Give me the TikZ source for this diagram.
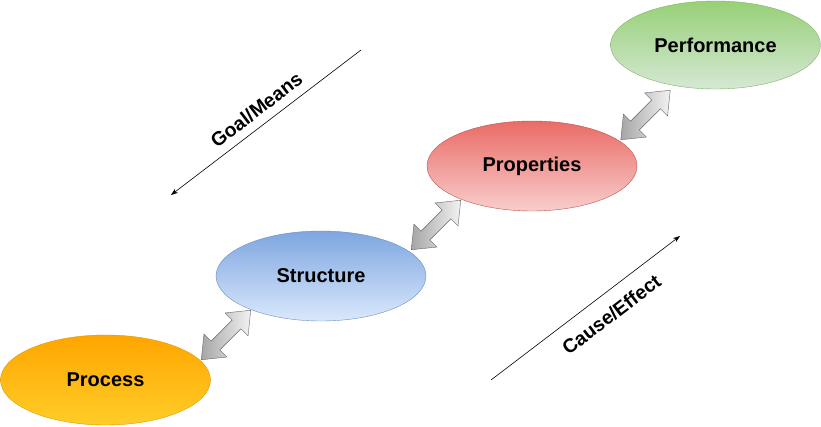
\documentclass[tikz,border=0pt]{standalone}
\usepackage{fontspec}
\setmainfont{Liberation Sans}
\usetikzlibrary{shapes.geometric, shapes.arrows, arrows.meta}

\definecolor{procTop}{HTML}{FFA500}
\definecolor{procBot}{HTML}{FFCD28}
\definecolor{procLine}{HTML}{D79B00}
\definecolor{strcTop}{HTML}{7EA6E0}
\definecolor{strcBot}{HTML}{DAE8FC}
\definecolor{strcLine}{HTML}{6C8EBF}
\definecolor{propTop}{HTML}{EA6B66}
\definecolor{propBot}{HTML}{F8CECC}
\definecolor{propLine}{HTML}{B85450}
\definecolor{perfTop}{HTML}{97D077}
\definecolor{perfBot}{HTML}{D5E8D4}
\definecolor{perfLine}{HTML}{82B366}

\tikzset{
    stage/.style = {shape = ellipse, draw, minimum width = 210pt, minimum height = 90pt,
        inner sep = 0pt, font = \fontsize{20}{24}\selectfont\bfseries},
    link/.style = {double arrow, draw = black!60, rotate = 45, minimum height = 70pt,
        inner xsep = 0pt, inner ysep = 6pt, double arrow head extend = 10pt,
        double arrow tip angle = 78, left color = black!35, right color = black!5},
    flow/.style = {-{Stealth[length = 7pt, width = 5pt]}, line width = 0.6pt},
    flowlabel/.style = {font = \fontsize{19.5}{23}\selectfont\bfseries, sloped}
}

\begin{document}
\begin{tikzpicture}[x = 1pt, y = 1pt]
    \useasboundingbox (0,0) rectangle (821,426);

    \node[stage, top color = procTop, bottom color = procBot, draw = procLine] (P) at (105.5,46) {Process};
    \node[stage, top color = strcTop, bottom color = strcBot, draw = strcLine] (S) at (321,150) {Structure};
    \node[stage, top color = propTop, bottom color = propBot, draw = propLine] (Q) at (532,260) {Properties};
    \node[stage, top color = perfTop, bottom color = perfBot, draw = perfLine, minimum height = 88pt] (F) at (715.5,381) {Performance};

    \node[link] (PS) at (226,91) {};
    \node[link] (SQ) at (436,201) {};
    \node[link] (QF) at (645.5,311) {};

    \coordinate (G1) at (361,376);
    \coordinate (G2) at (171,231);
    \coordinate (C1) at (491,46);
    \coordinate (C2) at (680,190);
    \draw[flow] (G1) -- node[flowlabel, above = 5pt, pos = 0.5] (GL) {Goal/Means} (G2);
    \draw[flow] (C1) -- node[flowlabel, below = 10pt, pos = 0.57] (CL) {Cause/Effect} (C2);
\end{tikzpicture}
\end{document}
